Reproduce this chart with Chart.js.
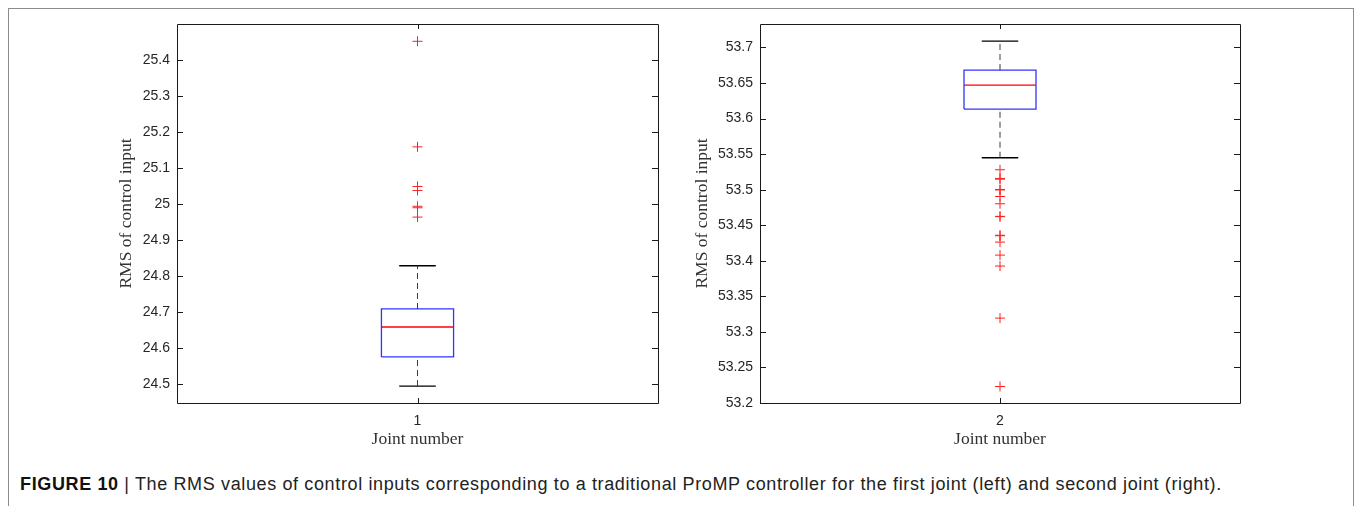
<!DOCTYPE html>
<html>
<head>
<meta charset="utf-8">
<script src="https://cdn.jsdelivr.net/npm/chart.js@4.4.1/dist/chart.umd.min.js"></script>
<style>
  body { margin: 0; background: #fff; width: 1356px; height: 506px; position: relative; overflow: hidden; }
  .frame { position: absolute; left: 8px; top: 8px; width: 1344px; height: 520px; border: 1px solid #8c8c8c; border-bottom: none; }
  canvas { position: absolute; top: 0; }
  #joint1 { left: 0; }
  #joint2 { left: 680px; }
  .caption { position: absolute; left: 20px; top: 474px; font: 18px "Liberation Sans", Arial, sans-serif; letter-spacing: 0.63px; color: #222; white-space: nowrap; }
  .caption b { color: #111; }
</style>
</head>
<body>
<div class="frame"></div>
<canvas id="joint1" width="680" height="460"></canvas>
<canvas id="joint2" width="676" height="460"></canvas>
<div class="caption"><b>FIGURE 10</b> | The RMS values of control inputs corresponding to a traditional ProMP controller for the first joint (left) and second joint (right).</div>
<script>
// [lower whisker, q1, median, q3, upper whisker]
const joint1Box = [24.494, 24.575, 24.658, 24.708, 24.828];
const joint1Outliers = [25.451, 25.158, 25.048, 25.037, 24.993, 24.989, 24.963];
const joint1Ticks = [24.5, 24.6, 24.7, 24.8, 24.9, 25, 25.1, 25.2, 25.3, 25.4];

const joint2Box = [53.5449, 53.6134, 53.6471, 53.6682, 53.709];
const joint2Outliers = [53.528, 53.5158, 53.5148, 53.5002, 53.4996, 53.4904, 53.4802,
  53.4625, 53.4621, 53.4359, 53.4352, 53.4263, 53.408, 53.3926, 53.3194, 53.2232];
const joint2Ticks = [53.2, 53.25, 53.3, 53.35, 53.4, 53.45, 53.5, 53.55, 53.6, 53.65, 53.7];

Chart.defaults.font.family = '"Liberation Sans", Arial, sans-serif';
Chart.defaults.color = '#262626';

const BOX_HALF = 0.075;
const CAP_HALF = 0.038;

// matlab style axes box with inward ticks
const axesBox = {
  id: 'axesBox',
  afterDatasetsDraw(chart) {
    const {ctx, chartArea: a, scales} = chart;
    ctx.save();
    ctx.strokeStyle = '#1a1a1a';
    ctx.lineWidth = 1;
    ctx.beginPath();
    ctx.rect(a.left + 0.5, a.top + 0.5, a.right - a.left, a.bottom - a.top);
    scales.y.ticks.forEach(t => {
      const py = Math.round(scales.y.getPixelForValue(t.value)) + 0.5;
      ctx.moveTo(a.left, py); ctx.lineTo(a.left + 6, py);
      ctx.moveTo(a.right, py); ctx.lineTo(a.right - 6, py);
    });
    scales.x.ticks.forEach(t => {
      const px = Math.round(scales.x.getPixelForValue(t.value)) + 0.5;
      ctx.moveTo(px, a.bottom); ctx.lineTo(px, a.bottom - 5);
      ctx.moveTo(px, a.top); ctx.lineTo(px, a.top + 5);
    });
    ctx.stroke();
    ctx.restore();
  }
};

const seg = (data, color, extra) => Object.assign({
  type: 'line', data, showLine: true, borderColor: color, borderWidth: 1,
  pointRadius: 0, fill: false, tension: 0
}, extra);

function boxDatasets(c, box, outliers) {
  const [lw, q1, med, q3, uw] = box;
  return [
    seg([{x: c, y: q3}, {x: c, y: uw}], '#3a3a3a', {borderDash: [6, 4]}),
    seg([{x: c, y: lw}, {x: c, y: q1}], '#3a3a3a', {borderDash: [6, 4]}),
    seg([{x: c - CAP_HALF, y: uw}, {x: c + CAP_HALF, y: uw}], '#000', {borderWidth: 1.3}),
    seg([{x: c - CAP_HALF, y: lw}, {x: c + CAP_HALF, y: lw}], '#000', {borderWidth: 1.3}),
    seg([{x: c - BOX_HALF, y: q1}, {x: c + BOX_HALF, y: q1}, {x: c + BOX_HALF, y: q3},
         {x: c - BOX_HALF, y: q3}, {x: c - BOX_HALF, y: q1}], '#3333ff', {borderWidth: 1.3}),
    seg([{x: c - BOX_HALF, y: med}, {x: c + BOX_HALF, y: med}], '#ff0000', {borderWidth: 1.3}),
    {
      type: 'scatter', data: outliers.map(v => ({x: c, y: v})),
      pointStyle: 'cross', pointRadius: 5, pointHoverRadius: 5,
      borderColor: '#ff2020', backgroundColor: '#ff2020', pointBorderWidth: 1, borderWidth: 1
    }
  ];
}

function makeChart(id, c, box, outliers, yTicks, yMin, yMax, yWidth, titlePad, rightPad) {
  return new Chart(document.getElementById(id), {
    type: 'scatter',
    data: {datasets: boxDatasets(c, box, outliers)},
    options: {
      responsive: false,
      animation: false,
      events: [],
      layout: {padding: {top: 24, right: rightPad, left: 0, bottom: 0}},
      plugins: {legend: {display: false}, tooltip: {enabled: false}},
      scales: {
        x: {
          type: 'linear', min: c - 0.5, max: c + 0.5,
          grid: {display: false, drawTicks: false}, border: {display: false},
          afterBuildTicks: s => { s.ticks = [{value: c}]; },
          afterFit: s => { s.height = 57; },
          ticks: {padding: 10, font: {size: 14}, callback: v => String(v)},
          title: {display: true, text: 'Joint number', color: '#333',
                  font: {family: '"Liberation Serif", "Times New Roman", serif', size: 17.5},
                  padding: {top: 0, bottom: 10.5}}
        },
        y: {
          type: 'linear', min: yMin, max: yMax,
          grid: {display: false, drawTicks: false}, border: {display: false},
          afterBuildTicks: s => { s.ticks = yTicks.map(v => ({value: v})); },
          afterFit: s => { s.width = yWidth; },
          ticks: {padding: 7, font: {size: 14}, callback: v => String(+v.toFixed(2))},
          title: {display: true, text: 'RMS of control input', color: '#333',
                  font: {family: '"Liberation Serif", "Times New Roman", serif', size: 17.5},
                  padding: {top: titlePad, bottom: 0}}
        }
      }
    },
    plugins: [axesBox]
  });
}

makeChart('joint1', 1, joint1Box, joint1Outliers, joint1Ticks, 24.447, 25.499, 177, 116, 22);
makeChart('joint2', 2, joint2Box, joint2Outliers, joint2Ticks, 53.2, 53.733, 80, 11.5, 116);
</script>
</body>
</html>
